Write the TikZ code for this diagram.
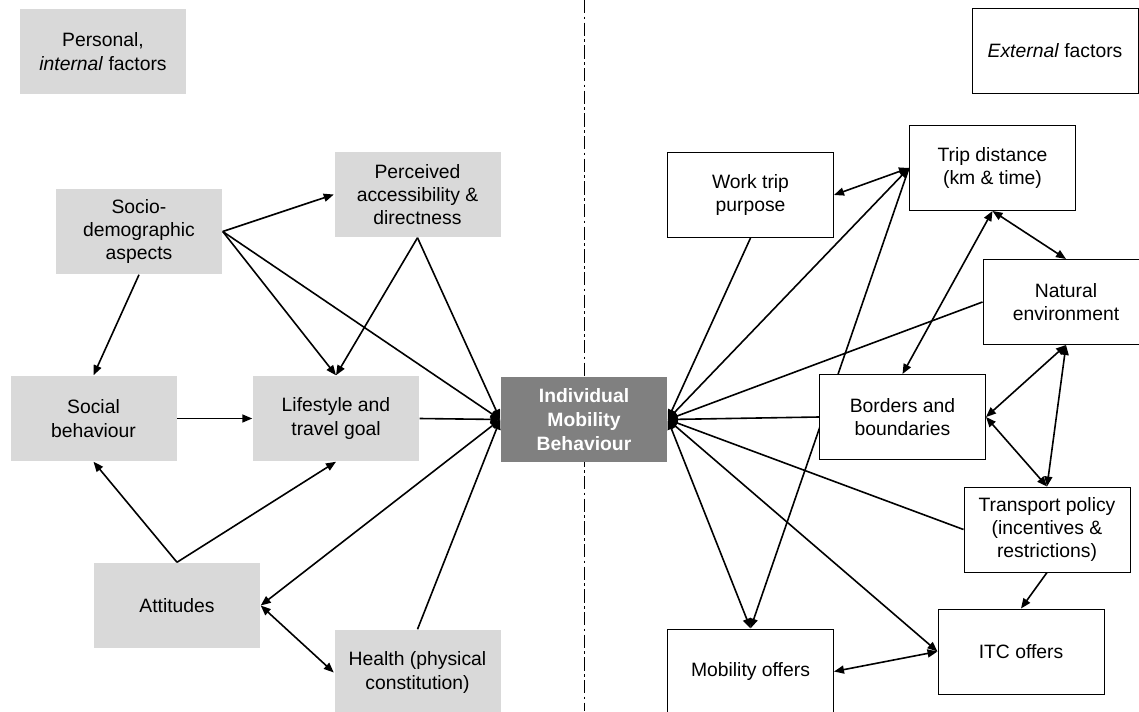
\documentclass[tikz,border=0pt]{standalone}
\usepackage{fontspec}
\setmainfont{Liberation Sans}
\usetikzlibrary{arrows.meta,backgrounds}
\definecolor{intgray}{HTML}{D9D9D9}
\definecolor{coregray}{HTML}{808080}

\begin{document}
\begin{tikzpicture}[
  x=0.75pt,
  y=-0.75pt,
  >={Triangle[length=7.5pt,width=6pt]},
  line width=1.1pt,
  every node/.style={font=\fontsize{14.5}{17.5}\selectfont},
  factorbox/.style={
    align=center,
    minimum width=124.5pt,
    minimum height=63.75pt,
    inner sep=2pt,
  },
  factorbox internal/.style={factorbox, fill=intgray},
  factorbox external/.style={factorbox, draw, fill=white, line width=0.75pt},
  factorbox core/.style={factorbox, fill=coregray, text=white, font=\fontsize{14.5}{18}\selectfont\bfseries},
  factorarrow/.style={->, line width=1.2pt},
  factorlink/.style={<->, line width=1.2pt},
  dividerline/.style={line width=0.75pt, dash pattern=on 10pt off 2.5pt on 2pt off 2.5pt},
]
\useasboundingbox (0,0) rectangle (1139,711);
\node[factorbox internal] (Pint) at (103,51.5) {Personal,\\\textit{internal} factors};
\node[factorbox external] (Pext) at (1055,51) {\textit{External} factors};
\node[factorbox internal] (Socio) at (139,231.5) {Socio-\\demographic\\aspects};
\node[factorbox internal] (Perc) at (417.5,194.5) {Perceived\\accessibility \&\\directness};
\node[factorbox internal] (Social) at (93.5,418.5) {Social\\behaviour};
\node[factorbox internal] (Life) at (336,418.5) {Lifestyle and\\travel goal};
\node[factorbox internal] (Att) at (177,605.5) {Attitudes};
\node[factorbox internal] (Health) at (417.5,672.5) {Health (physical\\constitution)};
\node[factorbox core] (IMB) at (584,419.5) {Individual\\Mobility\\Behaviour};
\node[factorbox external] (Work) at (750.5,195) {Work trip\\purpose};
\node[factorbox external] (Dist) at (992.5,168) {Trip distance\\(km \& time)};
\node[factorbox external] (Nat) at (1066,302) {Natural\\environment};
\node[factorbox external] (Bord) at (902.5,417) {Borders and\\boundaries};
\node[factorbox external] (Pol) at (1047,529.5) {Transport policy\\(incentives \&\\restrictions)};
\node[factorbox external] (ITC) at (1021,651.5) {ITC offers};
\node[factorbox external] (Mob) at (750.5,671.5) {Mobility offers};
\begin{pgfonlayer}{background}
\draw[dividerline] (584,0) -- (584,711);
\draw[factorarrow] (Socio.east) -- (Perc.west);
\draw[factorarrow] (Socio.east) -- (Life.north);
\draw[factorarrow] (Socio.east) -- (IMB.west);
\draw[factorarrow] (Socio.south) -- (Social.north);
\draw[factorarrow] (Perc.south) -- (Life.north);
\draw[factorarrow] (Perc.south) -- (IMB.west);
\draw[factorarrow] (Social.east) -- (Life.west);
\draw[factorarrow] (Life.east) -- (IMB.west);
\draw[factorarrow] (Att.north) -- (Social.south);
\draw[factorarrow] (Att.north) -- (Life.south);
\draw[factorlink] (Att.east) -- (IMB.west);
\draw[factorlink] (Att.east) -- (Health.west);
\draw[factorarrow] (Health.north) -- (IMB.west);
\draw[factorarrow] (Work.south) -- (IMB.east);
\draw[factorlink] (Work.east) -- (Dist.west);
\draw[factorlink] (IMB.east) -- (Dist.west);
\draw[factorarrow] (Dist.west) -- (Mob.north);
\draw[factorarrow] (Nat.west) -- (IMB.east);
\draw[factorlink] (Dist.south) -- (Bord.north);
\draw[factorlink] (Dist.south) -- (Nat.north);
\draw[factorlink] (Nat.south) -- (Bord.east);
\draw[factorlink] (Nat.south) -- (Pol.north);
\draw[factorlink] (Bord.east) -- (Pol.north);
\draw[factorarrow] (Bord.west) -- (IMB.east);
\draw[factorarrow] (Pol.west) -- (IMB.east);
\draw[factorarrow] (Pol.south) -- (ITC.north);
\draw[factorlink] (IMB.east) -- (ITC.west);
\draw[factorlink] (IMB.east) -- (Mob.north);
\draw[factorlink] (Mob.east) -- (ITC.west);
\end{pgfonlayer}
\end{tikzpicture}
\end{document}
